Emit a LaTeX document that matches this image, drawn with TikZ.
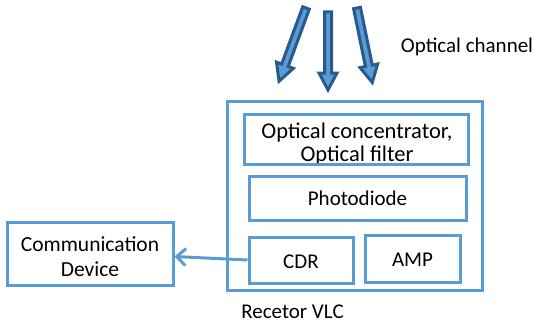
\documentclass[tikz,border=0pt]{standalone}
\usepackage{fontspec}
\setmainfont{Carlito}
\usetikzlibrary{arrows.meta}
\definecolor{boxblue}{HTML}{5B9BD5}
\definecolor{darkblue}{HTML}{285A8C}
\tikzset{
  blk/.style={draw=boxblue, line width=3pt, inner sep=0pt},
  lbl/.style={font=\fontsize{21}{23}\selectfont, inner sep=0pt, align=center, text=black},
  bigarrow/.style={draw=darkblue, fill=boxblue, line width=3pt, line join=miter},
}
\newcommand{\lightarrow}[3]{%
  \begin{scope}[shift={(#1)}, rotate=#2]
    \draw[bigarrow] (0,-3.5) -- (#3-17,-3.5) -- (#3-17,-9) -- (#3,0) -- (#3-17,9) -- (#3-17,3.5) -- (0,3.5) -- cycle;
  \end{scope}}
\begin{document}
\begin{tikzpicture}[x=1pt, y=-1pt]
\useasboundingbox (0,0) rectangle (534,329);
% outer receiver box
\node[blk, minimum width=255pt, minimum height=189pt] (outer) at (354.5,195.5) {};
% inner blocks
\node[lbl, font=\fontsize{22.5}{23.5}\selectfont] (conctext) at (357,144) {Optical concentrator,\\Optical filter};
\node[blk, minimum width=224pt, minimum height=50pt] (conc) at (356,139) {};
\node[blk, minimum width=217pt, minimum height=44pt] (pd) at (357.5,198) {};
\node[lbl] (pdtext) at (357.5,198) {Photodiode};
\node[blk, minimum width=104pt, minimum height=46pt] (cdr) at (301,260) {};
\node[lbl] (cdrtext) at (301,262) {CDR};
\node[blk, minimum width=95pt, minimum height=47pt] (amp) at (412.5,258.5) {};
\node[lbl] (amptext) at (412.5,260) {AMP};
% communication device
\node[blk, minimum width=166pt, minimum height=63pt] (comm) at (90,253.5) {};
\node[lbl, font=\fontsize{21.5}{25}\selectfont] (commtext) at (90,257) {Communication\\Device};
% labels
\node[lbl] (chan) at (467,47) {Optical channel};
\node[lbl] (rx) at (292.5,312) {Recetor VLC};
% connector
\draw[draw=boxblue, line width=3pt, -{Straight Barb[length=9pt, width=17pt, line width=3pt]}]
  (cdr.west) -- ([yshift=-3pt]comm.east);
% incident light arrows
\lightarrow{306,8}{-110.2}{78}
\lightarrow{328,12}{-90}{78}
\lightarrow{357,8}{-78.4}{76}
\end{tikzpicture}
\end{document}
